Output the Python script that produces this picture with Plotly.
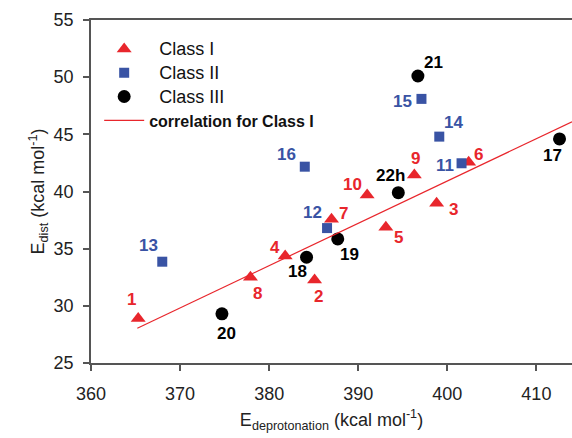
import plotly.graph_objects as go

# Class I compounds (red triangles)
c1_ids = ["1", "2", "3", "4", "5", "6", "7", "8", "9", "10"]
c1_x = [365.3, 385.1, 398.8, 381.8, 393.1, 402.4, 387.0, 377.9, 396.3, 391.0]
c1_y = [28.9, 32.26, 38.97, 34.36, 36.87, 42.55, 37.57, 32.5, 41.45, 39.7]

# Class II compounds (blue squares)
c2_ids = ["11", "12", "13", "14", "15", "16"]
c2_x = [401.6, 386.5, 368.0, 399.1, 397.1, 384.0]
c2_y = [42.47, 36.8, 33.86, 44.8, 48.1, 42.17]

# Class III compounds (black circles)
c3_ids = ["17", "18", "19", "20", "21", "22h"]
c3_x = [412.6, 384.2, 387.7, 374.7, 396.7, 394.5]
c3_y = [44.6, 34.25, 35.85, 29.3, 50.1, 39.9]

# Correlation line for Class I (end points)
fit_x = [365.2, 414.0]
fit_y = [28.04, 46.1]

# Label offsets in pixels (dx right, dy up) for each compound number
label_offsets = {
    "1": (-7, 19), "2": (4, -17), "3": (17, -6), "4": (-10, 8), "5": (13, -10),
    "6": (10, 8), "7": (12, 6), "8": (7, -16), "9": (1, 16), "10": (-15, 10),
    "11": (-17, -2), "12": (-15, 16), "13": (-14, 16), "14": (14, 14),
    "15": (-19, -3), "16": (-18, 12), "17": (-7, -17), "18": (-9, -14),
    "19": (12, -16), "20": (5, -20), "21": (16, 14), "22h": (-8, 17),
}

RED = "#e8262c"
BLUE = "#3953a4"
BLACK = "#000000"
FONT = "Liberation Sans, Arial, sans-serif"


def big(name):
    return "<span style='font-size:18px'>" + name + "</span>"


fig = go.Figure()
fig.add_trace(go.Scatter(x=c1_x, y=c1_y, mode="markers", name=big("  Class I"),
                         marker=dict(symbol="triangle-up", size=13, color=RED)))
fig.add_trace(go.Scatter(x=c2_x, y=c2_y, mode="markers", name=big("  Class II"),
                         marker=dict(symbol="square", size=10, color=BLUE)))
fig.add_trace(go.Scatter(x=c3_x, y=c3_y, mode="markers", name=big("  Class III"),
                         marker=dict(symbol="circle", size=13, color=BLACK)))
fig.add_trace(go.Scatter(x=fit_x, y=fit_y, mode="lines",
                         name="<b>correlation for Class I</b>",
                         line=dict(color=RED, width=1.2)))

for ids, xs, ys, col in [(c1_ids, c1_x, c1_y, RED), (c2_ids, c2_x, c2_y, BLUE),
                         (c3_ids, c3_x, c3_y, BLACK)]:
    for lab, xv, yv in zip(ids, xs, ys):
        dx, dy = label_offsets[lab]
        fig.add_annotation(x=xv, y=yv, text="<b>" + lab + "</b>", showarrow=False,
                           xshift=dx, yshift=dy,
                           font=dict(family=FONT, size=17, color=col))

fig.update_layout(
    width=572, height=438,
    margin=dict(l=91, r=0, t=20, b=75),
    paper_bgcolor="white", plot_bgcolor="white",
    font=dict(family=FONT, size=18, color="#222222"),
    showlegend=True,
    legend=dict(x=0.017, y=0.965, xanchor="left", yanchor="top",
                bgcolor="rgba(0,0,0,0)", font=dict(size=16, color="#111111"),
                tracegroupgap=0, itemwidth=40),
)
fig.update_xaxes(range=[360, 414], tickvals=[360, 370, 380, 390, 400, 410],
                 showline=True, linecolor="#555555", linewidth=1.5, mirror=True,
                 ticks="outside", ticklen=6, tickcolor="#555555", tickwidth=1.5,
                 ticklabelstandoff=8,
                 showgrid=False, zeroline=False,
                 tickfont=dict(size=18, color="#222222"),
                 title=dict(text="E<sub>deprotonation</sub> (kcal mol<sup>-1</sup>)",
                            font=dict(size=18, color="#222222"), standoff=10))
fig.update_yaxes(range=[25, 55], tickvals=[25, 30, 35, 40, 45, 50, 55],
                 showline=True, linecolor="#555555", linewidth=1.5,
                 ticks="outside", ticklen=6, tickcolor="#555555", tickwidth=1.5,
                 ticklabelstandoff=6,
                 showgrid=False, zeroline=False,
                 tickfont=dict(size=18, color="#222222"),
                 title=dict(text="E<sub>dist</sub> (kcal mol<sup>-1</sup>)",
                            font=dict(size=18, color="#222222"), standoff=4))

fig.write_html("out.html")
